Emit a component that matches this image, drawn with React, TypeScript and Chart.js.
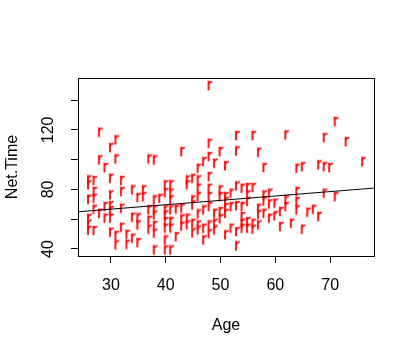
import { useEffect, useRef } from 'react';
import { Chart, registerables } from 'chart.js';

Chart.register(...registerables);

// Age of each runner (x) and Net.Time (y)
const ages = [
  26, 26, 26, 26, 26, 26,
  27, 27, 27, 27, 27,
  28, 28, 28,
  29, 29, 29,
  30, 30, 30, 30, 30, 30, 30,
  31, 31, 31, 31,
  32, 32, 32, 32,
  33, 33,
  34, 34, 34,
  35, 35, 35, 35,
  36, 36,
  37, 37, 37, 37,
  38, 38, 38, 38, 38, 38, 38,
  39,
  40, 40, 40, 40, 40, 40, 40, 40,
  41, 41, 41, 41, 41, 41, 41,
  42, 42,
  43, 43, 43, 43,
  44, 44, 44, 44,
  45, 45, 45, 45, 45,
  46, 46, 46, 46, 46, 46, 46,
  47, 47, 47, 47,
  48, 48, 48, 48, 48, 48, 48, 48, 48,
  49, 49, 49, 49,
  50, 50, 50, 50, 50,
  51, 51, 51, 51, 51, 51,
  52, 52, 52,
  53, 53, 53, 53, 53, 53,
  54, 54, 54, 54, 54,
  55, 55, 55, 55, 55,
  56, 56, 56, 56,
  57, 57, 57, 57,
  58, 58, 58, 58,
  59, 59, 59,
  60, 60,
  61, 61,
  62, 62, 62,
  63,
  64, 64, 64, 64,
  65, 65,
  66,
  67,
  68, 68,
  69, 69, 69,
  70,
  71, 71,
  73,
  76,
];

const netTimes = [
  86.1, 82.8, 73.1, 60.2, 56.4, 52.3,
  85.7, 78.3, 73.8, 66.4, 52.1,
  118.1, 99.5, 63.7,
  94.4, 68.2, 60.4,
  107.8, 87.2, 76.0, 68.9, 65.5, 60.4, 51.0,
  113.0, 100.2, 48.8, 42.5,
  85.7, 78.3, 67.1, 54.3,
  49.6, 42.9,
  79.4, 61.1, 47.0,
  74.3, 60.8, 55.9, 44.0,
  79.4, 74.9,
  100.2, 66.0, 59.0, 53.0,
  99.5, 72.7, 66.0, 62.5, 55.5, 50.3, 39.1,
  73.8,
  82.8, 77.5, 66.0, 62.6, 58.1, 53.7, 45.8, 39.1,
  82.8, 77.2, 72.7, 66.0, 58.1, 53.7, 39.1,
  66.5, 48.0,
  105.1, 67.1, 59.9, 55.0,
  86.1, 82.8, 60.4, 55.9,
  87.2, 72.7, 69.3, 57.0, 50.6,
  93.9, 86.1, 80.5, 74.9, 63.3, 55.9, 52.5,
  98.4, 66.0, 53.7, 45.8,
  149.4, 110.7, 101.8, 88.3, 80.5, 74.9, 68.2, 55.9, 50.0,
  97.3, 63.7, 57.0, 52.5,
  105.1, 79.4, 74.9, 64.9, 60.0,
  95.7, 74.9, 71.6, 67.5, 63.7, 49.2,
  77.2, 68.2, 53.7,
  115.9, 105.6, 82.1, 68.9, 51.4, 41.8,
  80.5, 68.2, 61.5, 57.0, 53.7,
  81.0, 76.0, 71.6, 58.1, 53.7,
  115.9, 81.0, 57.0, 53.0,
  104.7, 67.1, 63.0, 55.9,
  94.4, 76.0, 72.0, 63.7,
  77.2, 70.0, 60.4,
  70.5, 62.0,
  64.9, 54.8,
  116.3, 72.7, 68.2,
  57.0,
  93.9, 78.3, 71.6, 66.0,
  95.0, 53.0,
  64.4,
  66.4,
  96.2, 61.5,
  114.5, 95.0, 77.2,
  94.4,
  125.3, 74.9,
  111.8,
  98.4,
];

// Regression line (abline)
const fitIntercept = 57.93;
const fitSlope = 0.2944;

// Axis ranges and ticks
const xRange = [24, 78];
const yRange = [35.3, 154.8];
const xTickValues = [30, 40, 50, 60, 70];
const yTickValues = [40, 60, 80, 100, 120, 140];
const yTickLabels = ['40', '', '80', '', '120', ''];
const xTitle = 'Age';
const yTitle = 'Net.Time';

const FONT = '"Liberation Sans", Arial, sans-serif';

function makeGlyph(): HTMLCanvasElement {
  const c = document.createElement('canvas');
  c.width = 8;
  c.height = 12;
  const ctx = c.getContext('2d')!;
  ctx.fillStyle = '#ff0000';
  ctx.strokeStyle = '#ff0000';
  ctx.lineWidth = 0.6;
  ctx.font = '16px ' + FONT;
  ctx.textAlign = 'center';
  ctx.textBaseline = 'alphabetic';
  ctx.fillText('r', 4, 10.2);
  ctx.strokeText('r', 4, 10.2);
  return c;
}

const boxPlugin = {
  id: 'rbox',
  afterDraw(chart: any) {
    const { ctx, chartArea } = chart;
    const { left, top, right, bottom } = chartArea;
    ctx.save();
    ctx.strokeStyle = '#000';
    ctx.lineWidth = 1;
    ctx.strokeRect(left + 0.5, top + 0.5, right - left, bottom - top);
    ctx.restore();
  },
};

export default function App() {
  const ref = useRef<HTMLCanvasElement>(null);

  useEffect(() => {
    document.body.style.margin = '0';
    const glyph = makeGlyph();
    const points = ages.map((a, i) => ({ x: a, y: netTimes[i] }));
    const linePts = xRange.map((x) => ({ x, y: fitIntercept + fitSlope * x }));
    const chart = new Chart(ref.current!, {
      type: 'scatter',
      data: {
        datasets: [
          {
            data: linePts,
            showLine: true,
            borderColor: '#000',
            borderWidth: 1,
            pointRadius: 0,
            fill: false,
          } as any,
          {
            data: points,
            pointStyle: glyph,
            pointRadius: 4,
            borderWidth: 0,
          } as any,
        ],
      },
      plugins: [boxPlugin],
      options: {
        animation: false,
        responsive: false,
        devicePixelRatio: 1,
        layout: { padding: { left: 0, top: 78, right: 41, bottom: 0 } },
        plugins: { legend: { display: false }, tooltip: { enabled: false } },
        scales: {
          x: {
            type: 'linear',
            min: xRange[0],
            max: xRange[1],
            afterBuildTicks: (s: any) => {
              s.ticks = xTickValues.map((v) => ({ value: v }));
            },
            afterFit: (s: any) => {
              s.height = 98;
            },
            grid: { drawOnChartArea: false, drawTicks: true, tickLength: 7, color: '#000', lineWidth: 1 },
            border: { display: false },
            ticks: {
              color: '#000',
              font: { family: FONT, size: 16 },
              padding: 13,
              maxRotation: 0,
              autoSkip: false,
              callback: (v: any) => String(v),
            },
            title: {
              display: true,
              text: xTitle,
              color: '#000',
              font: { family: FONT, size: 16 },
              padding: { top: 0, bottom: 19 },
            },
          },
          y: {
            type: 'linear',
            min: yRange[0],
            max: yRange[1],
            afterBuildTicks: (s: any) => {
              s.ticks = yTickValues.map((v) => ({ value: v }));
            },
            afterFit: (s: any) => {
              s.width = 78;
            },
            grid: { drawOnChartArea: false, drawTicks: true, tickLength: 7, color: '#000', lineWidth: 1 },
            border: { display: false },
            ticks: {
              color: '#000',
              font: { family: FONT, size: 16 },
              padding: 9,
              minRotation: 90,
              maxRotation: 90,
              crossAlign: 'center',
              autoSkip: false,
              callback: (_v: any, i: number) => yTickLabels[i],
            },
            title: {
              display: true,
              text: yTitle,
              color: '#000',
              font: { family: FONT, size: 16 },
              padding: { top: 3, bottom: 0 },
            },
          },
        },
      } as any,
    });
    return () => chart.destroy();
  }, []);

  return (
    <div style={{ width: 415, height: 354 }}>
      <canvas ref={ref} width={415} height={354} style={{ display: 'block' }} />
    </div>
  );
}
